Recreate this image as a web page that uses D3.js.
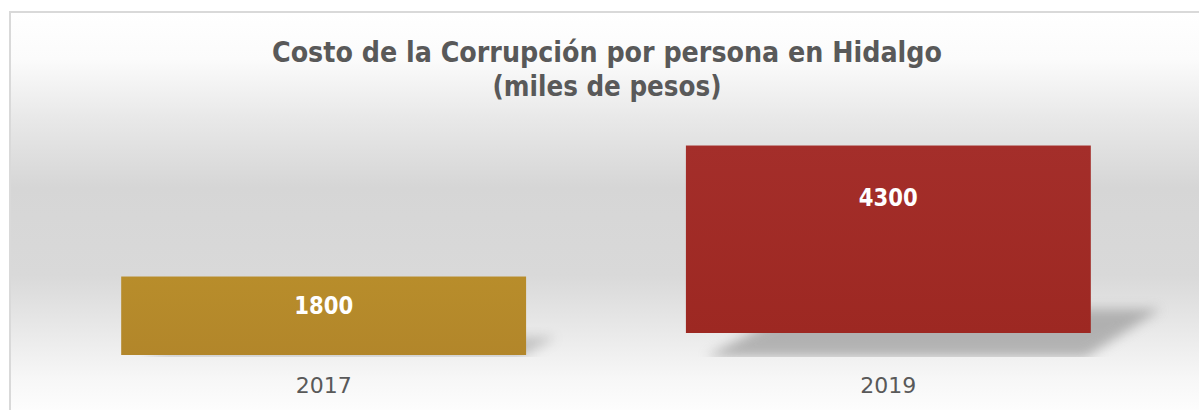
<!DOCTYPE html>
<html>
<head>
<meta charset="utf-8">
<script src="https://cdn.jsdelivr.net/npm/d3@7"></script>
<style>
  html, body { margin: 0; padding: 0; background: #fff; }
  svg { display: block; }
  .title { font-family: Tahoma, "DejaVu Sans Condensed", "DejaVu Sans", sans-serif; font-weight: bold; font-size: 29px; fill: #595959; }
  .value-label { font-family: Tahoma, "DejaVu Sans", sans-serif; font-weight: bold; font-size: 24px; fill: #fff; }
  .cat-label { font-family: Tahoma, "DejaVu Sans", sans-serif; font-size: 22px; fill: #595959; }
</style>
</head>
<body>
<div id="chart"></div>
<script>
// ---- data ----
const years = ["2017", "2019"];
const costs = [1800, 4300];
const barColors = [["#b88d2b", "#b2862a"], ["#a42e2a", "#9d2822"]];
const titleLines = ["Costo de la Corrupción por persona en Hidalgo", "(miles de pesos)"];

const width = 1199, height = 410;
const plot = { left: 41, right: 1171, bottom: 355, top: 137 };
const barLift = [0, 22]; // the 2019 bar floats above the base with its shadow

const svg = d3.select("#chart").append("svg")
  .attr("width", width)
  .attr("height", height);

const defs = svg.append("defs");

// chart background gradient
const bg = defs.append("linearGradient")
  .attr("id", "bgGrad")
  .attr("x1", 0).attr("y1", 0).attr("x2", 0).attr("y2", 1);
[[0, "#ffffff"], [0.12, "#fbfbfb"], [0.27, "#e8e8e8"], [0.44, "#d6d6d6"], [0.66, "#d9d9d9"], [0.79, "#e8e8e8"], [0.92, "#f7f7f7"], [1, "#fdfdfd"]]
  .forEach(s => bg.append("stop").attr("offset", s[0]).attr("stop-color", s[1]));

barColors.forEach((c, i) => {
  const g = defs.append("linearGradient")
    .attr("id", "barGrad" + i)
    .attr("x1", 0).attr("y1", 0).attr("x2", 0).attr("y2", 1);
  g.append("stop").attr("offset", 0).attr("stop-color", c[0]);
  g.append("stop").attr("offset", 1).attr("stop-color", c[1]);
});

defs.append("filter")
  .attr("id", "blur")
  .attr("x", "-20%").attr("y", "-50%").attr("width", "140%").attr("height", "200%")
  .append("feGaussianBlur").attr("stdDeviation", 6);

defs.append("clipPath").attr("id", "plotClip")
  .append("rect").attr("x", 0).attr("y", 0).attr("width", width).attr("height", plot.bottom + 2);

// chart frame
svg.append("rect")
  .attr("x", 10).attr("y", 12)
  .attr("width", width + 40).attr("height", height - 12 + 1)
  .attr("fill", "url(#bgGrad)")
  .attr("stroke", "#d9d9d9")
  .attr("stroke-width", 2);

// title
svg.append("g").selectAll("text")
  .data(titleLines)
  .join("text")
  .attr("class", "title")
  .attr("x", 607)
  .attr("y", (d, i) => 62 + i * 34)
  .attr("text-anchor", "middle")
  .attr("textLength", (d, i) => i === 0 ? 670 : 229)
  .attr("lengthAdjust", "spacingAndGlyphs")
  .text(d => d);

// scales
const x = d3.scaleBand()
  .domain(years)
  .range([plot.left, plot.right])
  .paddingInner(0.283)
  .paddingOuter(0.142);

const y = d3.scaleLinear()
  .domain([0, 5000])
  .range([plot.bottom, plot.bottom - 218]);

const bars = years.map((yr, i) => ({ year: yr, value: costs[i], i }));

// shadows
svg.append("g")
  .attr("clip-path", "url(#plotClip)")
  .selectAll("polygon")
  .data(bars)
  .join("polygon")
  .attr("points", d => {
    const x0 = x(d.year), x1 = x0 + x.bandwidth();
    const b = y(0) + 2;
    const depth = d.i === 0 ? 20 : 48;
    const spread = d.i === 0 ? 30 : 70;
    return [[x0 + 20, b], [x1 - 5, b], [x1 + spread, b - depth], [x0 + spread + 40, b - depth]].join(" ");
  })
  .attr("fill", "#8c8c8c")
  .attr("opacity", d => d.i === 0 ? 0.45 : 0.6)
  .attr("filter", "url(#blur)");

// bars
svg.append("g").selectAll("rect")
  .data(bars)
  .join("rect")
  .attr("x", d => x(d.year))
  .attr("y", d => y(d.value) - barLift[d.i])
  .attr("width", x.bandwidth())
  .attr("height", d => y(0) - y(d.value))
  .attr("fill", d => `url(#barGrad${d.i})`);

// value labels
svg.append("g").selectAll("text")
  .data(bars)
  .join("text")
  .attr("class", "value-label")
  .attr("x", d => x(d.year) + x.bandwidth() / 2)
  .attr("y", d => {
    const top = y(d.value) - barLift[d.i];
    return top + 21 + 0.21 * (y(0) - y(d.value));
  })
  .attr("text-anchor", "middle")
  .attr("textLength", 59)
  .attr("lengthAdjust", "spacingAndGlyphs")
  .text(d => d.value);

// category axis
const axis = svg.append("g")
  .attr("transform", `translate(0,${plot.bottom})`)
  .call(d3.axisBottom(x).tickSize(0).tickPadding(0));
axis.select(".domain").remove();
axis.selectAll("text")
  .attr("class", "cat-label")
  .attr("dy", null)
  .attr("y", 38)
  .attr("fill", null);
</script>
</body>
</html>
